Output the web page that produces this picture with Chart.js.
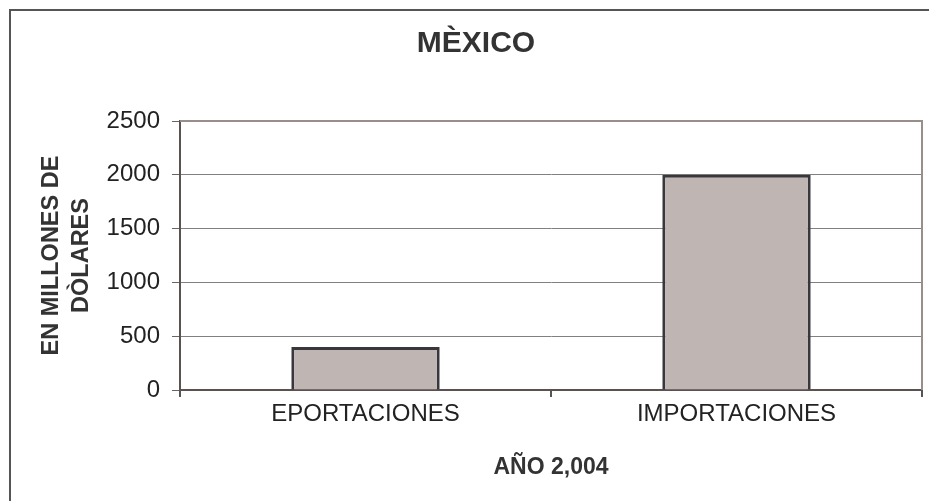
<!DOCTYPE html>
<html>
<head>
<meta charset="utf-8">
<title>MÈXICO</title>
<script src="https://cdn.jsdelivr.net/npm/chart.js@4.4.0/dist/chart.umd.min.js"></script>
<style>
  body { margin: 0; background: #fff; overflow: hidden; }
  #chart { display: block; }
</style>
</head>
<body>
<canvas id="chart" width="929" height="501"></canvas>
<script>
const categories = ["EPORTACIONES", "IMPORTACIONES"];
const values = [400, 2000];
const yTicks = [0, 500, 1000, 1500, 2000, 2500];

const fontFamily = "'Liberation Sans', Arial, sans-serif";

// white background, outer frame (left + top only) and the top/right border of the plot area
const framePlugin = {
    id: "frame",
    beforeDraw: (chart) => {
        const ctx = chart.ctx;
        ctx.save();
        ctx.fillStyle = "#fff";
        ctx.fillRect(0, 0, chart.width, chart.height);
        ctx.strokeStyle = "#555";
        ctx.lineWidth = 2;
        ctx.beginPath();
        ctx.moveTo(10, chart.height);
        ctx.lineTo(10, 10);
        ctx.lineTo(chart.width, 10);
        ctx.stroke();
        ctx.restore();
    },
    afterDatasetsDraw: (chart) => {
        const {ctx, chartArea} = chart;
        ctx.save();
        ctx.strokeStyle = "#9a8e8a";
        ctx.lineWidth = 2;
        ctx.beginPath();
        ctx.moveTo(chartArea.left, chartArea.top);
        ctx.lineTo(chartArea.right, chartArea.top);
        ctx.lineTo(chartArea.right, chartArea.bottom);
        ctx.stroke();
        ctx.restore();
    }
};

const ctx = document.getElementById("chart").getContext("2d");
const chart = new Chart(ctx, {
    type: "bar",
    data: {
        labels: categories,
        datasets: [{
            data: values,
            backgroundColor: "#bfb5b2",
            borderColor: "#38383c",
            borderWidth: 3,
            barPercentage: 0.4,
            categoryPercentage: 1
        }]
    },
    options: {
        responsive: false,
        animation: false,
        layout: { padding: { left: 30, right: 7, top: 0, bottom: 0 } },
        plugins: {
            legend: { display: false },
            tooltip: { enabled: false },
            title: {
                display: true,
                text: "MÈXICO",
                color: "#333",
                font: { family: fontFamily, size: 30, weight: "bold", lineHeight: 1.2 },
                padding: { top: 26, bottom: 59 }
            }
        },
        scales: {
            x: {
                afterFit: (scale) => { scale.height = 111; },
                grid: { drawOnChartArea: false, drawTicks: true, tickLength: 7, offset: true, color: "#555", lineWidth: 2 },
                border: { color: "#5b5250", width: 2 },
                ticks: {
                    color: "#222",
                    padding: 3,
                    maxRotation: 0,
                    font: { family: fontFamily, size: 24 }
                },
                title: {
                    display: true,
                    text: "AÑO 2,004",
                    color: "#333",
                    font: { family: fontFamily, size: 23, weight: "bold", lineHeight: 1.2 },
                    padding: { top: 0, bottom: 20 }
                }
            },
            y: {
                min: 0,
                max: 2500,
                afterFit: (scale) => { scale.width = 150; },
                afterBuildTicks: (scale) => {
                    scale.ticks = yTicks.map(v => ({ value: v }));
                },
                grid: { color: "#808080", lineWidth: 1, tickLength: 8, tickColor: "#666", tickWidth: 1 },
                border: { color: "#5b5250", width: 2 },
                ticks: {
                    color: "#222",
                    padding: 12,
                    font: { family: fontFamily, size: 24 },
                    callback: (value) => String(value)
                },
                title: {
                    display: true,
                    text: ["EN MILLONES DE", "DÒLARES"],
                    color: "#333",
                    font: { family: fontFamily, size: 23.5, weight: "bold", lineHeight: 1.3 },
                    padding: { top: 6, bottom: 0 }
                }
            }
        }
    },
    plugins: [framePlugin]
});
</script>
</body>
</html>
